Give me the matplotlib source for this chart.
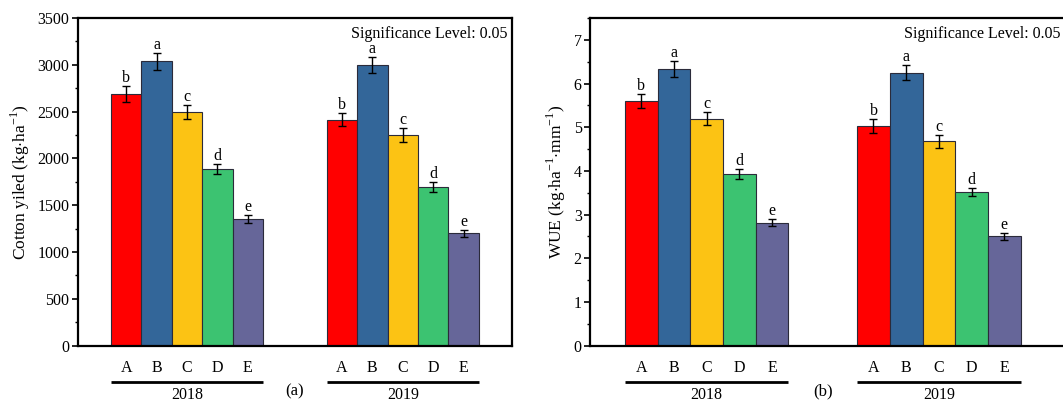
import matplotlib
matplotlib.use("Agg")
import matplotlib.pyplot as plt
import numpy as np
from matplotlib.ticker import MultipleLocator
from matplotlib.transforms import blended_transform_factory

plt.rcParams['font.family'] = ['Liberation Serif', 'DejaVu Serif']
plt.rcParams['mathtext.fontset'] = 'custom'
plt.rcParams['mathtext.rm'] = 'Liberation Serif'

treatments = ['A', 'B', 'C', 'D', 'E']
years = ['2018', '2019']
colors = ['#FF0000', '#336699', '#FCC314', '#3CC371', '#666699']

yield_2018 = [2690, 3040, 2500, 1890, 1350]
yield_2019 = [2415, 3000, 2250, 1695, 1200]
yield_err_2018 = [82, 91, 75, 53, 41]
yield_err_2019 = [70, 87, 71, 55, 37]

wue_2018 = [5.60, 6.33, 5.20, 3.93, 2.81]
wue_2019 = [5.03, 6.25, 4.68, 3.52, 2.50]
wue_err_2018 = [0.16, 0.18, 0.16, 0.125, 0.08]
wue_err_2019 = [0.16, 0.18, 0.145, 0.10, 0.07]

letters = ['b', 'a', 'c', 'd', 'e']

fig = plt.figure(figsize=(10.63, 4.03), dpi=100)
ax1 = fig.add_axes([0.0731, 0.1422, 0.4083, 0.8131])
ax2 = fig.add_axes([0.5550, 0.1422, 0.4516, 0.8131])

group_offset = 7.1
x1 = np.arange(5)
x2 = np.arange(5) + group_offset


def draw_panel(ax, v18, v19, e18, e19, ylim, major, minor, ylabel, tag,
               xlim, letter_pad, sig_x):
    for xs, vals, errs in ((x1, v18, e18), (x2, v19, e19)):
        ax.bar(xs, vals, width=1.0, color=colors, edgecolor='#2b2b3a',
               linewidth=0.8, zorder=2)
        ax.errorbar(xs, vals, yerr=errs, fmt='none', ecolor='black',
                    elinewidth=1.0, capsize=2.8, capthick=1.0, zorder=3)
        for x, v, e, l in zip(xs, vals, errs, letters):
            ax.text(x, v + e + letter_pad, l, ha='center', va='baseline',
                    fontsize=11.5)
    ax.set_xlim(*xlim)
    ax.set_ylim(*ylim)
    ax.yaxis.set_major_locator(MultipleLocator(major))
    ax.yaxis.set_minor_locator(MultipleLocator(minor))
    ax.tick_params(axis='y', which='major', direction='out', length=4,
                   width=1.2, labelsize=11.5, pad=2)
    ax.tick_params(axis='y', which='minor', direction='out', length=2,
                   width=1.0)
    ax.set_xticks(list(x1) + list(x2))
    ax.set_xticklabels(treatments * 2, fontsize=11.5)
    ax.tick_params(axis='x', length=0, pad=10)
    for s in ax.spines.values():
        s.set_linewidth(1.6)
    ax.set_ylabel(ylabel, fontsize=12.5, labelpad=4)
    ax.text(sig_x, 0.94, 'Significance Level: 0.05', transform=ax.transAxes,
            ha='right', va='baseline', fontsize=11.5)

    trans = blended_transform_factory(ax.transData, ax.transAxes)
    for xs, yr in ((x1, years[0]), (x2, years[1])):
        ax.plot([xs[0] - 0.5, xs[-1] + 0.5], [-0.11, -0.11], color='black',
                lw=2.0, transform=trans, clip_on=False,
                solid_capstyle='butt')
        ax.text(xs.mean(), -0.125, yr, transform=trans, ha='center',
                va='top', fontsize=11.5)
    mid = (x1.mean() + x2.mean()) / 2
    ax.text(mid, -0.115, tag, transform=trans, ha='center', va='top',
            fontsize=12)


draw_panel(ax1, yield_2018, yield_2019, yield_err_2018, yield_err_2019,
           (0, 3500), 500, 250, r'Cotton yiled (kg$\cdot$ha$^{-1}$)', '(a)',
           (-1.595, 12.685), 43, 0.99)
draw_panel(ax2, wue_2018, wue_2019, wue_err_2018, wue_err_2019,
           (0, 7.5), 1, 0.5,
           r'WUE (kg$\cdot$ha$^{-1}$$\cdot$mm$^{-1}$)', '(b)',
           (-1.57, 13.11), 0.09, 0.98)

fig.savefig('out.png', dpi=100)
